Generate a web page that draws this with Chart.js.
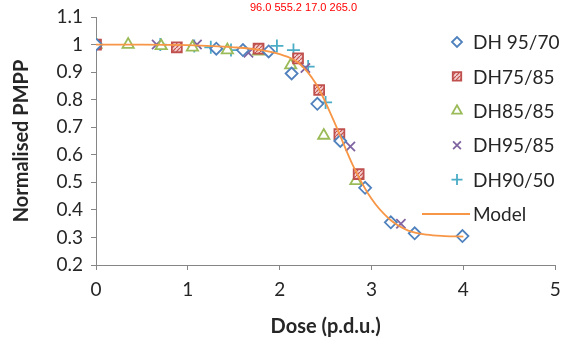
<!DOCTYPE html>
<html>
<head>
<meta charset="utf-8">
<script src="https://cdn.jsdelivr.net/npm/chart.js@4"></script>
<style>
  html, body { margin: 0; padding: 0; background: #fff; }
  #wrap { width: 564px; height: 339px; }
</style>
</head>
<body>
<div id="wrap"><canvas id="chart" width="564" height="339"></canvas></div>
<script>
const seriesNames = ['DH 95/70', 'DH75/85', 'DH85/85', 'DH95/85', 'DH90/50', 'Model'];

// DH 95/70 (diamonds)
const dh9570X = [0, 1.31, 1.60, 1.88, 2.13, 2.41, 2.66, 2.93, 3.21, 3.47, 3.99];
const dh9570Y = [1.0, 0.985, 0.98, 0.975, 0.895, 0.785, 0.65, 0.48, 0.355, 0.315, 0.305];

// DH75/85 (squares)
const dh7585X = [0, 0.88, 1.77, 2.20, 2.43, 2.65, 2.86];
const dh7585Y = [1.0, 0.99, 0.985, 0.95, 0.835, 0.675, 0.53];

// DH85/85 (triangles)
const dh8585X = [0, 0.35, 0.71, 1.05, 1.43, 1.77, 2.12, 2.48, 2.83];
const dh8585Y = [1.0, 1.0, 0.995, 0.99, 0.98, 0.975, 0.925, 0.67, 0.505];

// DH95/85 (crosses)
const dh9585X = [0, 0.66, 1.10, 1.66, 2.28, 2.77, 3.32];
const dh9585Y = [1.0, 1.0, 1.0, 0.97, 0.915, 0.63, 0.35];

// DH90/50 (plus)
const dh9050X = [0, 0.70, 1.07, 1.25, 1.47, 1.97, 2.15, 2.31, 2.50];
const dh9050Y = [1.0, 1.0, 0.995, 0.99, 0.98, 0.995, 0.98, 0.92, 0.79];

// Model curve
const modelX = [0, 0.5, 1.0, 1.5, 1.8, 2.0, 2.2, 2.4, 2.6, 2.8, 3.0, 3.2, 3.4, 3.6, 3.8, 4.0];
const modelY = [1.0, 1.0, 0.998, 0.99, 0.98, 0.965, 0.935, 0.855, 0.715, 0.56, 0.44, 0.365, 0.325, 0.31, 0.305, 0.303];

const xTicks = [0, 1, 2, 3, 4, 5];
const xTickLabels = ['0', '1', '2', '3', '4', '5'];
const yTicks = [0.2, 0.3, 0.4, 0.5, 0.6, 0.7, 0.8, 0.9, 1.0, 1.1];
const yTickLabels = ['0.2', '0.3', '0.4', '0.5', '0.6', '0.7', '0.8', '0.9', '1', '1.1'];

const toPoints = (xs, ys) => xs.map((x, i) => ({ x, y: ys[i] }));

// hatched fill for the red squares
function hatch() {
  const c = document.createElement('canvas');
  c.width = 4; c.height = 4;
  const g = c.getContext('2d');
  g.fillStyle = '#f3d0cf';
  g.fillRect(0, 0, 4, 4);
  g.strokeStyle = '#c0504d';
  g.lineWidth = 1.2;
  g.beginPath();
  g.moveTo(0, 4); g.lineTo(4, 0);
  g.stroke();
  return g.createPattern(c, 'repeat');
}

const axisGray = '#868686';
const textCol = '#262626';
const FONT = 'Lato, "Open Sans", sans-serif';

function marker(label, xs, ys, style, radius, color, fill) {
  return {
    label,
    data: toPoints(xs, ys),
    showLine: false,
    pointStyle: style,
    pointRadius: radius,
    pointHoverRadius: radius,
    pointBorderWidth: 1.8,
    borderColor: color,
    backgroundColor: fill,
    order: 1
  };
}

// fixed edge room for the end tick labels (the "5" runs to the edge like the original)
function fixedPadding(pad) {
  return s => {
    s._calculatePadding = function () {
      this.paddingLeft = pad.left;
      this.paddingRight = pad.right;
      this.paddingTop = pad.top;
      this.paddingBottom = pad.bottom;
    };
  };
}

const sideLegend = {
  id: 'sideLegend',
  afterDraw(chart) {
    const ctx = chart.ctx;
    const markX = 457, textX = 473, top = 42, gap = 34.4;
    ctx.save();
    ctx.font = '19px ' + FONT;
    ctx.textBaseline = 'middle';
    chart.data.datasets.forEach((ds, i) => {
      const y = top + i * gap;
      if (ds.showLine) {
        ctx.strokeStyle = ds.borderColor;
        ctx.lineWidth = 2;
        ctx.beginPath();
        ctx.moveTo(422, y);
        ctx.lineTo(470, y);
        ctx.stroke();
      } else {
        ctx.fillStyle = ds.backgroundColor;
        ctx.strokeStyle = ds.borderColor;
        ctx.lineWidth = ds.pointBorderWidth;
        Chart.helpers.drawPoint(ctx, {
          pointStyle: ds.pointStyle,
          radius: ds.pointRadius - 1,
          borderWidth: ds.pointBorderWidth,
          rotation: 0
        }, markX, y);
      }
      ctx.fillStyle = textCol;
      ctx.fillText(ds.label, textX, y + 1);
    });
    const a = chart.chartArea;
    ctx.font = '11px sans-serif';
    ctx.fillStyle = 'red';
    ctx.fillText([a.left, a.right, a.top, a.bottom].map(v => v.toFixed(1)).join(' '), 250, 8);
    ctx.restore();
  }
};

new Chart(document.getElementById('chart'), {
  type: 'scatter',
  data: {
    datasets: [
      marker(seriesNames[0], dh9570X, dh9570Y, 'rectRot', 6, '#4f81bd', '#ffffff'),
      marker(seriesNames[1], dh7585X, dh7585Y, 'rect', 7, '#c0504d', hatch()),
      marker(seriesNames[2], dh8585X, dh8585Y, 'triangle', 6.5, '#9bbb59', '#ffffff'),
      marker(seriesNames[3], dh9585X, dh9585Y, 'crossRot', 6.5, '#8064a2', '#8064a2'),
      marker(seriesNames[4], dh9050X, dh9050Y, 'cross', 6.5, '#4bacc6', '#4bacc6'),
      {
        label: seriesNames[5],
        data: toPoints(modelX, modelY),
        showLine: true,
        borderColor: '#f79646',
        backgroundColor: '#f79646',
        borderWidth: 1.8,
        pointRadius: 0,
        cubicInterpolationMode: 'monotone',
        order: 0
      }
    ]
  },
  options: {
    responsive: false,
    animation: false,
    layout: { padding: { top: 6, right: 0, bottom: 0, left: 4 } },
    plugins: {
      legend: { display: false },
      tooltip: { enabled: false }
    },
    scales: {
      x: {
        type: 'linear',
        min: 0,
        max: 5,
        beforeFit: fixedPadding({ left: 0, right: 6, top: 0, bottom: 0 }),
        afterBuildTicks: s => { s.ticks = xTicks.map(v => ({ value: v })); },
        afterFit: s => { s.height = 74; },
        border: { display: true, color: axisGray, width: 1 },
        grid: { display: true, drawOnChartArea: false, drawTicks: true, tickLength: 5, color: axisGray },
        ticks: {
          callback: (v, i) => xTickLabels[i],
          color: textCol,
          font: { family: FONT, size: 19 },
          padding: 8,
          maxRotation: 0
        },
        title: {
          display: true,
          text: 'Dose (p.d.u.)',
          color: textCol,
          font: { family: FONT, size: 20, weight: 'bold' },
          padding: { top: 5, bottom: 0 }
        }
      },
      y: {
        type: 'linear',
        min: 0.2,
        max: 1.1,
        beforeFit: fixedPadding({ left: 0, right: 0, top: 17, bottom: 0 }),
        afterBuildTicks: s => { s.ticks = yTicks.map(v => ({ value: v })); },
        afterFit: s => { s.width = 92; },
        border: { display: true, color: axisGray, width: 1 },
        grid: { display: true, drawOnChartArea: false, drawTicks: true, tickLength: 5, color: axisGray },
        ticks: {
          callback: (v, i) => yTickLabels[i],
          color: textCol,
          font: { family: FONT, size: 19 },
          padding: 8
        },
        title: {
          display: true,
          text: 'Normalised PMPP',
          color: textCol,
          font: { family: FONT, size: 20, weight: 'bold' },
          padding: { top: 6, bottom: 4 }
        }
      }
    }
  },
  plugins: [sideLegend]
});
</script>
</body>
</html>
